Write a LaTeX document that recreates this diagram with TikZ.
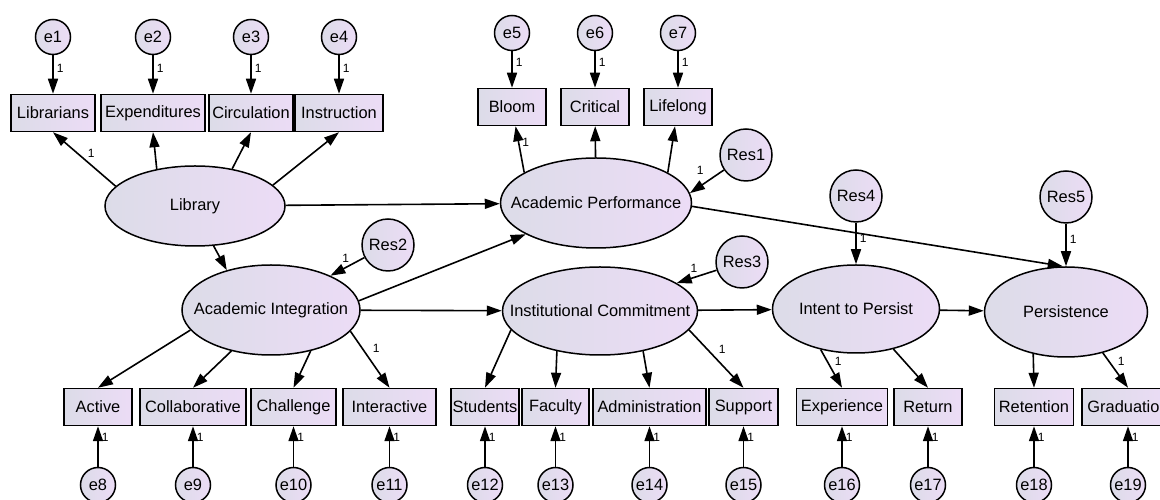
\documentclass[tikz,border=0pt]{standalone}
\usepackage{fontspec}
\setmainfont{Liberation Sans}
\usetikzlibrary{arrows.meta,shapes.geometric}
\definecolor{semleft}{RGB}{220,220,232}
\definecolor{semright}{RGB}{236,220,246}
\tikzset{
  sem latent/.style={
    ellipse,draw=black,line width=1.5pt,left color=semleft,right color=semright,
    inner sep=0pt
  },
  sem obs/.style={
    rectangle,draw=black,line width=1.5pt,left color=semleft,right color=semright,
    minimum height=37pt,inner xsep=1pt
  },
  sem err/.style={
    circle,draw=black,line width=1.5pt,left color=semleft,right color=semright,
    minimum size=35pt,inner sep=0pt
  },
  sem res/.style={sem err,minimum size=52pt},
  sem path/.style={black,line width=1.6pt,-{Triangle[length=15pt,width=10pt]}},
  sem one/.style={font=\fontsize{12}{14}\selectfont,inner sep=1pt}
}
\newcommand{\semerrat}[4]{%
  \node[sem err] (#1) at (#2 |- 0,#3) {#1};
  \draw[sem path] (#1) -- node[sem one,pos=#4,right=2pt] {1} (#2);%
}

\begin{document}
\begin{tikzpicture}[x=1pt,y=1pt,font=\fontsize{16.4}{19}\selectfont]
  \useasboundingbox (0,0) rectangle (1160,500);
  \clip (0,0) rectangle (1160,500);
  % latent variables
  \node[sem latent,minimum width=180pt,minimum height=80pt,label=center:Library] (lib) at (195,294) {};
  \node[sem latent,minimum width=191pt,minimum height=90pt,label=center:Academic Performance] (ap) at (596,297) {};
  \node[sem latent,minimum width=178pt,minimum height=90pt,label=center:Academic Integration] (ai) at (271,190) {};
  \node[sem latent,minimum width=195pt,minimum height=88pt,label=center:Institutional Commitment] (ic) at (600,189) {};
  \node[sem latent,minimum width=167pt,minimum height=88pt,label=center:Intent to Persist] (itp) at (856,191) {};
  \node[sem latent,minimum width=163pt,minimum height=90pt,label=center:Persistence] (pers) at (1066,188) {};
  % residuals
  \node[sem res] (res1) at (746,345) {Res1};
  \node[sem res] (res2) at (388,255) {Res2};
  \node[sem res] (res3) at (742,238) {Res3};
  \node[sem res] (res4) at (856,304) {Res4};
  \node[sem res] (res5) at (1066,303) {Res5};
  % observed variables
  \node[sem obs,minimum width=84pt] (lib1) at (53,387) {Librarians};
  \node[sem obs,minimum width=104pt] (lib2) at (153,387) {Expenditures};
  \node[sem obs,minimum width=84pt] (lib3) at (251,387) {Circulation};
  \node[sem obs,minimum width=88pt] (lib4) at (339,387) {Instruction};
  \node[sem obs,minimum width=68pt] (apb) at (512,393) {Bloom};
  \node[sem obs,minimum width=68pt] (apc) at (595,393) {Critical};
  \node[sem obs,minimum width=68pt] (apl) at (678,393) {Lifelong};
  \node[sem obs,minimum width=68pt] (aia) at (98,93) {Active};
  \node[sem obs,minimum width=106pt] (aic) at (193,93) {Collaborative};
  \node[sem obs,minimum width=85pt] (aich) at (293.5,93) {Challenge};
  \node[sem obs,minimum width=93pt] (aii) at (389.5,93) {Interactive};
  \node[sem obs,minimum width=68pt] (ics) at (485,93) {Students};
  \node[sem obs,minimum width=67pt] (icf) at (555.5,93) {Faculty};
  \node[sem obs,minimum width=113pt] (ica) at (649.5,93) {Administration};
  \node[sem obs,minimum width=69pt] (icsu) at (743.5,93) {Support};
  \node[sem obs,minimum width=91pt] (itpe) at (842,93) {Experience};
  \node[sem obs,minimum width=68pt] (itpr) at (928,93) {Return};
  \node[sem obs,minimum width=79pt] (pret) at (1034,93) {Retention};
  \node[sem obs,minimum width=92pt] (pgra) at (1128,93) {Graduation};
  % error terms
  \semerrat{e1}{lib1}{463}{.34}
  \semerrat{e2}{lib2}{463}{.34}
  \semerrat{e3}{lib3}{463}{.34}
  \semerrat{e4}{lib4}{463}{.34}
  \semerrat{e5}{apb}{467}{.3}
  \semerrat{e6}{apc}{467}{.3}
  \semerrat{e7}{apl}{467}{.3}
  \semerrat{e8}{aia}{15}{.73}
  \semerrat{e9}{aic}{15}{.73}
  \semerrat{e10}{aich}{15}{.73}
  \semerrat{e11}{aii}{15}{.73}
  \semerrat{e12}{ics}{15}{.73}
  \semerrat{e13}{icf}{15}{.73}
  \semerrat{e14}{ica}{15}{.73}
  \semerrat{e15}{icsu}{15}{.73}
  \semerrat{e16}{itpe}{15}{.73}
  \semerrat{e17}{itpr}{15}{.73}
  \semerrat{e18}{pret}{15}{.73}
  \semerrat{e19}{pgra}{15}{.73}
  % loadings
  \draw[sem path] (lib.166) -- node[sem one,pos=.6,right=8pt] {1} (lib1.south);
  \draw[sem path] (lib.136) -- (lib2.south);
  \draw[sem path] (lib.45) -- (lib3.south);
  \draw[sem path] (lib.15) -- (lib4.south);
  \draw[sem path] (ap.157) -- node[sem one,pos=.65,right=2pt] {1} (apb);
  \draw[sem path] (ap) -- (apc);
  \draw[sem path] (ap.23) -- (apl);
  \draw[sem path] (ai.-166) -- (aia.north);
  \draw[sem path] (ai.-134) -- (aic.north);
  \draw[sem path] (ai.-46) -- (aich.north);
  \draw[sem path] (ai.-15) -- node[sem one,pos=.3,right=9pt] {1} (aii.north);
  \draw[sem path] (ic.-168) -- (ics.north);
  \draw[sem path] (ic.-137) -- (icf.north);
  \draw[sem path] (ic.-43) -- (ica.north);
  \draw[sem path] (ic.-12) -- node[sem one,pos=.33,right=10pt] {1} (icsu.north);
  \draw[sem path] (itp.-131) -- node[sem one,pos=.3,right=6pt] {1} (itpe.north);
  \draw[sem path] (itp.-47) -- (itpr.north);
  \draw[sem path] (pers.-128) -- (pret.north);
  \draw[sem path] (pers.-48) -- node[sem one,pos=.25,right=7pt] {1} (pgra.north);
  % structural paths
  \draw[sem path] (lib) -- (ap);
  \draw[sem path] (lib.-65) -- (ai.138);
  \draw[sem path] (ai.6) -- (ap.204);
  \draw[sem path] (ai) -- (ic);
  \draw[sem path] (ic) -- (itp);
  \draw[sem path] (itp) -- (pers);
  \draw[sem path] (ap.-2) -- (pers.94);
  \draw[sem path] (res1) -- node[sem one,pos=.7,above=10pt] {1} (ap.6);
  \draw[sem path] (res2) -- node[sem one,pos=.55,above=3pt] {1} (ai.30);
  \draw[sem path] (res3) -- node[sem one,pos=.57,above=3pt] {1} (ic.20);
  \draw[sem path] (res4) -- node[sem one,pos=.37,right=2pt] {1} (itp);
  \draw[sem path] (res5) -- node[sem one,pos=.37,right=2pt] {1} (pers);
\end{tikzpicture}
\end{document}
